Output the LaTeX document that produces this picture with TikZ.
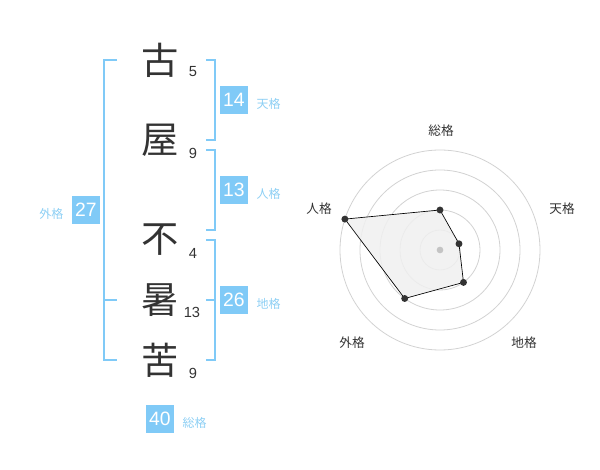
\documentclass[tikz,border=0pt]{standalone}
\usepackage{fontspec}
\setmainfont{Liberation Sans}
\newfontfamily\jpfont{Noto Sans CJK JP}
\usetikzlibrary{positioning}

\definecolor{inkgray}{HTML}{333333}
\definecolor{boxblue}{HTML}{80CAF7}
\definecolor{lblblue}{HTML}{8DCFF4}
\definecolor{ringgray}{HTML}{D2D2D2}
\definecolor{areagray}{HTML}{F0F0F0}
\definecolor{dotgray}{HTML}{C4C4C4}

\tikzset{
  kanji/.style={font=\jpfont\fontsize{28}{28}\selectfont, text=inkgray, inner sep=0pt},
  strokes/.style={font=\fontsize{11}{11}\selectfont, text=inkgray, inner sep=0pt},
  scorebox/.style={fill=boxblue, text=white, font=\fontsize{14.5}{14.5}\selectfont,
    minimum width=21pt, minimum height=21pt, inner sep=0pt},
  scorelbl/.style={font=\jpfont\fontsize{9}{9}\selectfont, text=lblblue, inner sep=0pt},
  bracket/.style={draw=boxblue, line width=1.5pt},
  axislbl/.style={font=\jpfont\fontsize{9.5}{9.5}\selectfont, text=inkgray, inner sep=0pt},
  ring/.style={draw=ringgray, line width=0.6pt}
}

\begin{document}
\begin{tikzpicture}[x=0.75pt, y=-0.75pt]
        \useasboundingbox (0,0) rectangle (600,470);

        % Name characters
        \node[kanji] (c1) at (160,60) {古};
        \node[kanji] (c2) at (160,140) {屋};
        \node[kanji] (c3) at (160,240) {不};
        \node[kanji] (c4) at (160,300) {暑};
        \node[kanji] (c5) at (160,360) {苦};

        % Stroke counts
        \node[strokes] (n1) at (193,72) {5};
        \node[strokes] (n2) at (193,153) {9};
        \node[strokes] (n3) at (193,253) {4};
        \node[strokes] (n4) at (192,312) {13};
        \node[strokes] (n5) at (193,373) {9};

        % Brackets
        \draw[bracket] (206,60) -- (215,60) -- (215,140) -- (206,140);
        \draw[bracket] (206,150) -- (215,150) -- (215,230) -- (206,230);
        \draw[bracket] (206,240) -- (215,240) -- (215,360) -- (206,360);
        \draw[bracket] (206,300) -- (215,300);
        \draw[bracket] (117,60) -- (104,60) -- (104,360) -- (117,360);
        \draw[bracket] (104,300) -- (117,300);

        % Scores
        \node[scorebox] (ten) at (234,100) {14};
        \node[scorelbl, right=6pt of ten, yshift=-3pt] (tenl) {天格};
        \node[scorebox] (jin) at (234,190) {13};
        \node[scorelbl, right=6pt of jin, yshift=-3pt] (jinl) {人格};
        \node[scorebox] (chi) at (234,300) {26};
        \node[scorelbl, right=6pt of chi, yshift=-3pt] (chil) {地格};
        \node[scorebox] (gai) at (86,210) {27};
        \node[scorelbl, left=6pt of gai, yshift=-3pt] (gail) {外格};
        \node[scorebox] (sou) at (160,419) {40};
        \node[scorelbl, right=6pt of sou, yshift=-3pt] (soul) {総格};

        % Radar chart
        \coordinate (ctr) at (440,250);
        \foreach \r in {20,40,60,80,100}
          \draw[ring] (ctr) circle (\r*0.75pt);

        \coordinate (pSou) at (440,210);
        \coordinate (pTen) at (459,243.8);
        \coordinate (pChi) at (463.5,282.4);
        \coordinate (pGai) at (404.7,298.5);
        \coordinate (pJin) at (344.9,219.1);

        \draw[fill=areagray, fill opacity=0.85, draw=black, line width=0.5pt]
          (pSou) -- (pTen) -- (pChi) -- (pGai) -- (pJin) -- cycle;
        \fill[dotgray] (ctr) circle (2.5pt);
        \foreach \p in {pSou,pTen,pChi,pGai,pJin}
          \fill[inkgray] (\p) circle (2.6pt);

        \node[axislbl] (aSou) at (441,130.5) {総格};
        \node[axislbl] (aTen) at (562,208.5) {天格};
        \node[axislbl] (aChi) at (524,342.5) {地格};
        \node[axislbl] (aGai) at (352,342.5) {外格};
        \node[axislbl] (aJin) at (319,208.5) {人格};
    \end{tikzpicture}
\end{document}
